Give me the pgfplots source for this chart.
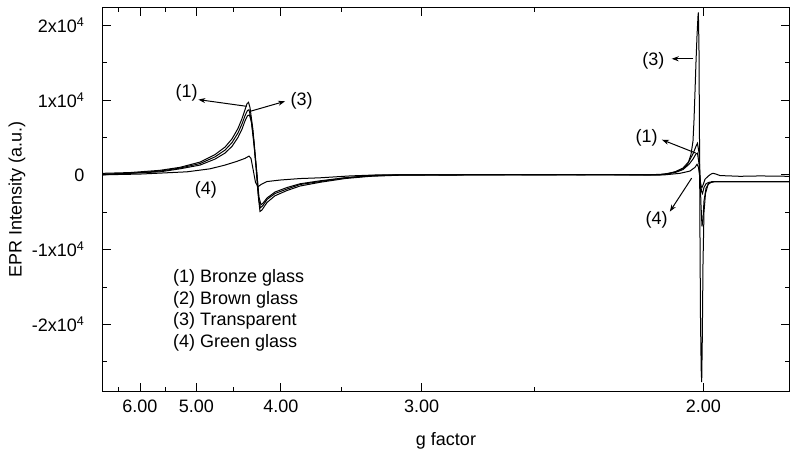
\documentclass[border=0pt]{standalone}
\usepackage{fontspec}
\setmainfont{Liberation Sans}
\usepackage{pgfplots}
\usepackage{pgfplotstable}
\pgfplotsset{compat=1.18}
\usetikzlibrary{arrows.meta}

% x = 1000/g (proportional to magnetic field), y = EPR intensity (a.u.)
\pgfplotstableread{
u y
144.78 200
160.75 300
178.50 600
190.34 1000
202.17 1700
211.05 2700
216.96 3700
221.10 4800
224.66 6200
227.02 7500
228.80 8700
229.98 9500
230.87 9700
231.76 9000
233.53 6000
235.31 1000
236.49 -2500
237.67 -4900
238.86 -4700
241.82 -3700
246.55 -2800
253.65 -2100
261.34 -1500
273.18 -1000
287.97 -500
302.76 -200
320.51 -50
350.10 0
379.68 30
409.27 -20
438.85 20
468.44 0
477.32 100
483.23 400
487.97 900
491.52 1800
493.89 2800
495.66 3800
496.55 4200
497.44 3000
498.03 0
498.63 -4000
499.22 -6900
499.81 -6000
500.40 -3500
501.59 -1800
503.36 -1100
506.92 -900
527.63 -900
550.71 -900
}\bronze

\pgfplotstableread{
u y
144.78 100
160.75 200
178.50 500
190.34 900
202.17 1500
211.05 2400
216.96 3300
221.10 4300
224.66 5600
227.02 6800
228.80 7900
230.28 8600
231.17 8700
232.35 7500
234.12 4500
235.90 0
237.08 -3500
237.97 -4400
239.45 -4100
241.82 -3300
246.55 -2500
253.65 -1900
261.34 -1300
273.18 -900
287.97 -400
302.76 -150
320.51 0
379.68 -20
438.85 30
474.36 0
477.32 100
483.23 300
487.97 700
491.52 1400
493.89 2100
495.66 2800
496.55 2900
497.44 1500
498.03 -500
498.92 -2200
499.51 -2500
500.40 -1700
501.59 -1200
503.36 -1000
506.92 -900
550.71 -900
}\brown

\pgfplotstableread{
u y
144.78 0
160.75 200
178.50 400
190.34 800
202.17 1300
211.05 2100
216.96 2900
221.10 3800
224.66 5000
227.02 6100
228.80 7200
230.28 7900
231.46 8000
232.65 7000
234.12 4000
235.90 0
237.08 -3000
238.27 -4000
239.45 -3800
241.82 -3100
246.55 -2300
253.65 -1700
261.34 -1200
273.18 -800
287.97 -400
302.76 -100
320.51 0
409.27 20
474.36 0
480.28 200
485.01 500
489.15 1000
490.93 1500
492.70 2700
493.89 4500
494.48 7200
495.07 11000
495.66 15000
496.26 18500
496.85 21200
497.08 21700
497.44 17000
497.74 5000
498.03 -8000
498.33 -19000
498.74 -26000
499.04 -27700
499.40 -22000
499.81 -12000
500.40 -5000
501.29 -2500
502.77 -1300
505.14 -900
550.71 -900
}\transparent

\pgfplotstableread{
u y
144.78 0
166.67 100
194.48 400
208.09 800
216.96 1300
224.06 1800
228.80 2200
231.17 2500
232.35 2200
233.53 800
235.01 -1000
236.49 -1600
238.27 -1300
241.82 -900
249.51 -700
261.34 -500
273.18 -400
290.93 -150
308.68 0
350.10 -30
409.27 40
438.85 -20
477.32 0
486.19 200
492.11 500
495.07 1000
496.26 1400
497.14 1000
498.03 -500
498.63 -1500
499.22 -1700
500.11 -1200
500.99 -600
502.77 -200
504.55 100
505.73 200
507.51 100
509.87 -100
521.71 -200
533.55 -150
550.71 -200
}\green

\begin{document}
\begin{tikzpicture}
\useasboundingbox (-103bp,-60bp) rectangle (687bp,391bp);
\begin{axis}[
  at={(0,0)}, anchor=south west,
  width=686bp, height=383bp, scale only axis,
  xmin=144.78, xmax=550.71, ymin=-28900, ymax=22300,
  xtick={166.667,200,250,333.333,500},
  xticklabels={6.00,5.00,4.00,3.00,2.00},
  minor xtick={153.846,181.818,222.222,285.714,400},
  ytick={-20000,-10000,0,10000,20000},
  yticklabels={-2x10\textsuperscript{4},-1x10\textsuperscript{4},0,1x10\textsuperscript{4},2x10\textsuperscript{4}},
  minor ytick={-25000,-15000,-5000,5000,15000},
  scaled y ticks=false,
  tick align=inside,
  major tick length=8bp, minor tick length=4bp,
  every tick/.style={black, line width=0.9bp},
  axis line style={line width=1bp},
  xticklabel style={font=\fontsize{18bp}{21bp}\selectfont, yshift=-5bp},
  yticklabel style={font=\fontsize{18bp}{21bp}\selectfont, xshift=-15bp},
  xlabel={g factor},
  ylabel={EPR Intensity (a.u.)},
  label style={font=\fontsize{18bp}{21bp}\selectfont},
  xlabel style={at={(axis description cs:0.5,0)}, anchor=base, yshift=-54bp},
  ylabel style={at={(axis description cs:-0.1254,0.5)}, anchor=center},
  clip=true,
]
\addplot[black, line width=1bp] table[x=u, y=y] {\bronze};
\addplot[black, line width=1bp] table[x=u, y=y] {\brown};
\addplot[black, line width=1bp] table[x=u, y=y] {\transparent};
\addplot[black, line width=1bp] table[x=u, y=y] {\green};

% annotations
\begin{scope}[every node/.style={font=\fontsize{18bp}{21bp}\selectfont, inner sep=0pt}]
\node at (axis cs:194.3,10952) {(1)};
\draw[line width=1bp, -{Stealth[length=7bp,width=5bp]}] (axis cs:229.8,9156) -- (axis cs:201.2,10054);
\node at (axis cs:262.3,9826) {(3)};
\draw[line width=1bp, -{Stealth[length=7bp,width=5bp]}] (axis cs:231.8,8485) -- (axis cs:252.5,9826);
\node at (axis cs:205.7,-2011) {(4)};
\node at (axis cs:470.4,15188) {(3)};
\draw[line width=1bp, -{Stealth[length=7bp,width=5bp]}] (axis cs:494.1,15510) -- (axis cs:481.3,15510);
\node at (axis cs:466.5,4920) {(1)};
\draw[line width=1bp, -{Stealth[length=7bp,width=5bp]}] (axis cs:495.5,2909) -- (axis cs:475.5,4692);
\node at (axis cs:472.4,-6032) {(4)};
\draw[line width=1bp, -{Stealth[length=7bp,width=5bp]}] (axis cs:493.1,-442) -- (axis cs:480.2,-4920);
\node[anchor=north west, align=left, font=\fontsize{18bp}{21.7bp}\selectfont] at (axis cs:186.2,-12601)
  {(1) Bronze glass\\(2) Brown glass\\(3) Transparent\\(4) Green glass};
\end{scope}
\end{axis}
\end{tikzpicture}
\end{document}
